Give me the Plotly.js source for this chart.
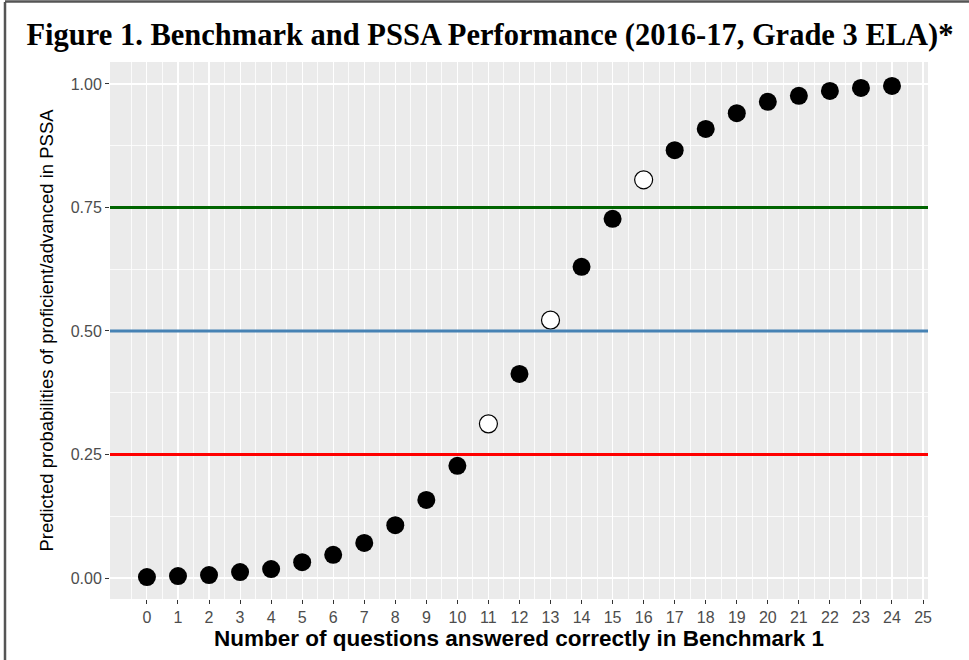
<!DOCTYPE html>
<html>
<head>
<meta charset="utf-8">
<script src="https://cdn.plot.ly/plotly-3.0.1.min.js"></script>
<style>html,body{margin:0;padding:0;background:#fff;}#chart{width:969px;height:660px;}</style>
</head>
<body>
<div id="chart"></div>
<script>
// Number of questions answered correctly in Benchmark 1
const questions = [0,1,2,3,4,5,6,7,8,9,10,11,12,13,14,15,16,17,18,19,20,21,22,23,24];
// Predicted probabilities of proficient/advanced in PSSA
const probabilities = [0.002,0.004,0.006,0.012,0.018,0.032,0.047,0.071,0.107,0.158,0.227,0.312,0.413,0.522,0.630,0.727,0.806,0.866,0.909,0.941,0.964,0.976,0.986,0.992,0.996];
// Highlighted (open) points
const openPoints = [11,13,16];
// Reference thresholds
const thresholds = [0.25, 0.50, 0.75];
const thresholdColors = ['#FF0000', '#4682B4', '#006400'];
const yTickVals = [0, 0.25, 0.5, 0.75, 1];
const yTickText = ['0.00', '0.25', '0.50', '0.75', '1.00'];
const xTickVals = [0,1,2,3,4,5,6,7,8,9,10,11,12,13,14,15,16,17,18,19,20,21,22,23,24,25];

const filledX = [], filledY = [], openX = [], openY = [];
questions.forEach((q, i) => {
  if (openPoints.includes(q)) { openX.push(q); openY.push(probabilities[i]); }
  else { filledX.push(q); filledY.push(probabilities[i]); }
});

const traces = [
  {x: filledX, y: filledY, type: 'scatter', mode: 'markers',
   marker: {size: 18, color: '#000000', line: {width: 0}}, showlegend: false, hoverinfo: 'x+y'},
  {x: openX, y: openY, type: 'scatter', mode: 'markers',
   marker: {size: 18, color: '#FFFFFF', line: {width: 1.2, color: '#000000'}}, showlegend: false, hoverinfo: 'x+y'}
];

const shapes = thresholds.map((t, i) => ({
  type: 'line', xref: 'x domain', yref: 'y', x0: 0, x1: 1, y0: t, y1: t,
  line: {color: thresholdColors[i], width: 3}, layer: 'above'
}));
// figure frame (left & top)
shapes.push({type: 'line', xref: 'paper', yref: 'paper', x0: -105/818, x1: -105/818, y0: -61/537, y1: 1 + 60/537,
  line: {color: '#555555', width: 2.5}});
shapes.push({type: 'line', xref: 'paper', yref: 'paper', x0: -105/818, x1: 1 + 41/818, y0: 1 + 60.5/537, y1: 1 + 60.5/537,
  line: {color: '#555555', width: 2.5}});

const layout = {
  width: 969, height: 660,
  margin: {l: 110, r: 41, t: 62, b: 61},
  paper_bgcolor: '#FFFFFF',
  plot_bgcolor: '#EBEBEB',
  showlegend: false,
  title: {
    text: '<b>Figure 1. Benchmark and PSSA Performance (2016-17, Grade 3 ELA)*</b>',
    font: {family: 'Liberation Serif, DejaVu Serif, serif', size: 30.5, color: '#000000'},
    x: 490/969, xref: 'container', xanchor: 'center', y: 1 - 34/660, yref: 'container', yanchor: 'middle'
  },
  xaxis: {
    range: [-1.19, 25.16], tickmode: 'array', tickvals: xTickVals,
    ticks: 'outside', ticklen: 4, tickwidth: 1, tickcolor: '#333333',
    tickfont: {family: 'Liberation Sans, Arial, sans-serif', size: 16, color: '#4D4D4D'},
    showgrid: true, gridcolor: '#FFFFFF', gridwidth: 1.1,
    minor: {tickmode: 'linear', tick0: 0.5, dtick: 1, showgrid: true, gridcolor: '#FFFFFF', gridwidth: 0.8, ticks: ''},
    zeroline: false, showline: false,
    title: {text: '<b>Number of questions answered correctly in Benchmark 1</b>',
      font: {family: 'Liberation Sans, Arial, sans-serif', size: 22.5, color: '#000000'}, standoff: 1}
  },
  yaxis: {
    range: [-0.0425, 1.0445], tickmode: 'array', tickvals: yTickVals, ticktext: yTickText,
    ticks: 'outside', ticklen: 4, tickwidth: 1, tickcolor: '#333333',
    tickfont: {family: 'Liberation Sans, Arial, sans-serif', size: 16, color: '#4D4D4D'},
    showgrid: true, gridcolor: '#FFFFFF', gridwidth: 1.1,
    minor: {tickmode: 'linear', tick0: 0.125, dtick: 0.25, showgrid: true, gridcolor: '#FFFFFF', gridwidth: 0.8, ticks: ''},
    zeroline: false, showline: false,
    title: {text: 'Predicted probabilities of proficient/advanced in PSSA',
      font: {family: 'Liberation Sans, Arial, sans-serif', size: 18.5, color: '#000000'}, standoff: 12}
  },
  shapes: shapes
};

Plotly.newPlot('chart', traces, layout, {displayModeBar: false, staticPlot: true});
</script>
</body>
</html>
